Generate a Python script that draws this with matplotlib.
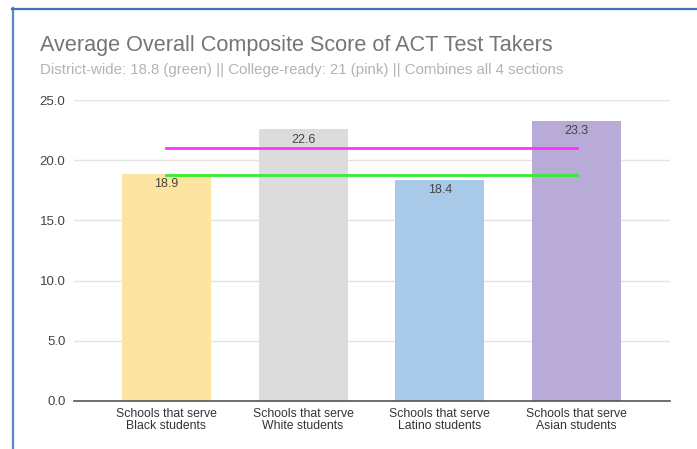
import matplotlib as mpl

mpl.use('Agg')
import matplotlib.pyplot as plt
import numpy as np

categories = ['Schools that serve\nBlack students', 'Schools that serve\nWhite students',
              'Schools that serve\nLatino students', 'Schools that serve\nAsian students']
scores = [18.9, 22.6, 18.4, 23.3]
bar_colors = ['#fde5a1', '#dcdcdc', '#a9c9e9', '#b8abd8']
district_avg = [18.8, 18.8, 18.8, 18.8]
college_ready = [21, 21, 21, 21]
yticks = [0, 5, 10, 15, 20, 25]

plt.rcParams['font.family'] = ['Liberation Sans', 'DejaVu Sans']

fig = plt.figure(figsize=(6.97, 4.49), dpi=100)
ax = fig.add_axes([0.106, 0.107, 0.855, 0.670])

x = np.arange(len(categories))
bars = ax.bar(x, scores, width=0.65, color=bar_colors, zorder=2)
for b, v in zip(bars, scores):
    ax.text(b.get_x() + b.get_width() / 2, v - 0.4, '%.1f' % v, ha='center', va='top',
            fontsize=9, color='#444444', zorder=4)

ax.plot(x, college_ready, color='#ff33ff', lw=2, zorder=3)
ax.plot(x, district_avg, color='#33ee33', lw=2, zorder=3)

ax.set_xlim(-0.675, 3.68)
ax.set_ylim(0, 25)
ax.set_yticks(yticks)
ax.set_yticklabels(['%.1f' % t for t in yticks], fontsize=9.5, color='#444444')
ax.set_xticks(x)
ax.set_xticklabels(categories, fontsize=8.8, color='#333333', linespacing=1.05)
ax.tick_params(axis='both', length=0, pad=6)
ax.tick_params(axis='x', pad=5)
ax.grid(axis='y', color='#e3e3e3', lw=1, zorder=0)
for s in ['top', 'right', 'left']:
    ax.spines[s].set_visible(False)
ax.spines['bottom'].set_color('#555555')
ax.spines['bottom'].set_linewidth(1.2)
ax.spines['bottom'].set_zorder(5)

fig.text(40 / 697, 1 - 46 / 449, 'Average Overall Composite Score of ACT Test Takers',
         fontsize=15.6, color='#757575', va='center', ha='left')
fig.text(40 / 697, 1 - 70 / 449,
         'District-wide: 18.8 (green) || College-ready: 21 (pink) || Combines all 4 sections',
         fontsize=10.8, color='#b3b3b3', va='center', ha='left')

# screenshot frame
fig.add_artist(plt.Line2D([12.5 / 697, 12.5 / 697], [0, 1 - 8 / 449], color='#5b88c6', lw=1.6))
fig.add_artist(plt.Line2D([12 / 697, 1], [1 - 8.5 / 449, 1 - 8.5 / 449], color='#3a73c0', lw=1.6))

plt.savefig('out.png', dpi=100)
